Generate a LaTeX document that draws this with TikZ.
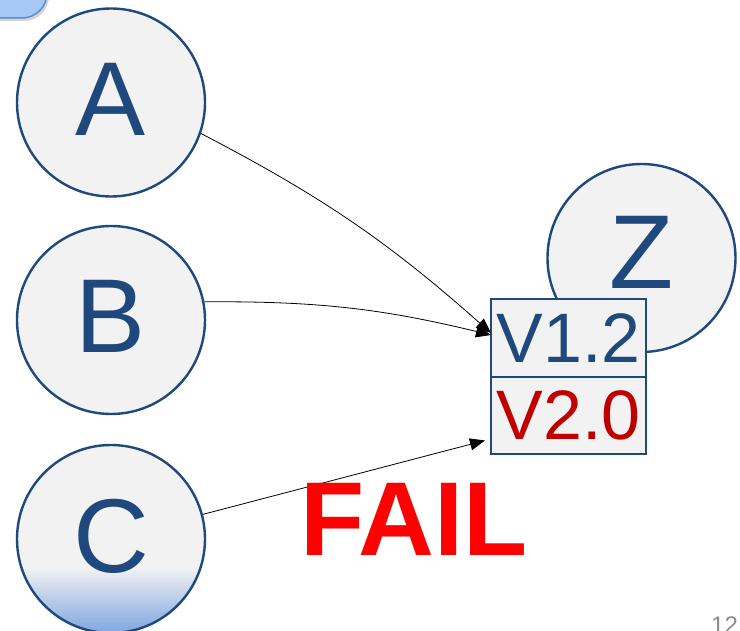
\documentclass[tikz,border=0pt]{standalone}
\usepackage{fontspec}
\setmainfont{Liberation Sans}
\usepackage{tikz}
\usetikzlibrary{shapes,arrows.meta,positioning,shadows}

\definecolor{nodeblue}{HTML}{1F497D}
\definecolor{nodefill}{HTML}{F2F2F2}
\definecolor{verred}{HTML}{C00000}
\definecolor{failred}{HTML}{FF0000}
\definecolor{tabfill}{HTML}{A6C8F7}
\definecolor{tabline}{HTML}{5B8BD9}
\definecolor{shadeblue}{HTML}{7DA5DF}
\definecolor{pagegray}{HTML}{8C8C8C}

\tikzset{
    peer/.style={circle, draw=nodeblue, line width=2.4pt, fill=nodefill, minimum size=188pt,
        inner sep=0pt, text=nodeblue, font=\fontsize{105}{105}\selectfont,
        text height=76pt, text depth=10pt},
    ver/.style={rectangle, draw=nodeblue, line width=2.2pt, fill=nodefill, minimum width=155pt,
        minimum height=77.5pt, inner sep=0pt, outer sep=0pt, font=\fontsize{70}{70}\selectfont},
    dep/.style={-{Triangle[length=15pt,width=12pt]}, line width=0.8pt}
}

\begin{document}
\begin{tikzpicture}[x=1pt,y=-1pt]
    \useasboundingbox (0,0) rectangle (740,631);
    % Corner tab
    \draw [tabline, line width=1.5pt, fill=tabfill, rounded corners=25pt,
        drop shadow={shadow xshift=2pt, shadow yshift=-3pt, opacity=0.35}] (-80,-80) rectangle (47,18);

    % Draw the peers
    \node [peer] (a) at (111,102.5) {A};
    \node [peer] (b) at (111,320) {B};
    \node [peer, text depth=14pt] (z) at (641.5,258) {Z};

    % C with a shaded bottom
    \coordinate (cc) at (111,539);
    \fill [nodefill] (cc) circle (94pt);
    \begin{scope}
        \clip (cc) circle (94pt);
        \shade [top color=nodefill, bottom color=shadeblue] (0,567) rectangle (220,634);
    \end{scope}
    \node [peer, fill=none] (c) at (cc) {C};

    % Draw the versions of Z
    \node [ver, text=nodeblue] (v12) at (568.5,338) {V1.2};
    \node [ver, text=verred, below=0pt of v12] (v20) {V2.0};

    % Draw the dependencies
    \draw [dep] (a.-19) to [bend left=7] ([yshift=5pt]v12.west);
    \draw [dep] (b.11) to [bend left=7] ([yshift=3pt]v12.west);
    \draw [dep] (c.15) -- ([xshift=-6pt,yshift=-25pt]v20.west);

    % Verdict and page number
    \node [text=failred, font=\fontsize{105}{105}\selectfont\bfseries, anchor=base] (fail) at (414,555) {FAIL};
    \node [text=pagegray, font=\fontsize{24}{24}\selectfont, anchor=base west, inner sep=0pt] (page) at (711,633) {12};
\end{tikzpicture}
\end{document}
